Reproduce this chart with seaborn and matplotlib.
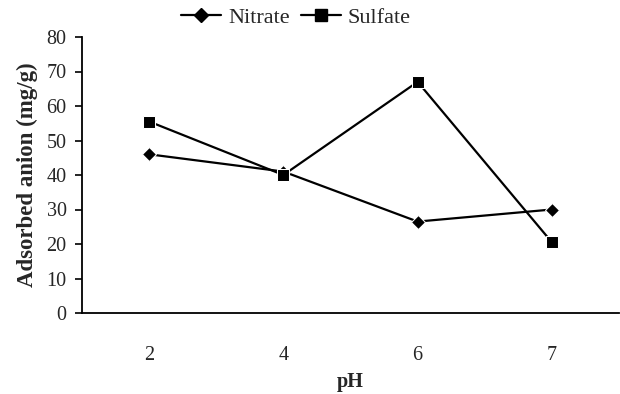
import matplotlib
matplotlib.use("Agg")
import matplotlib.pyplot as plt
import seaborn as sns
import pandas as pd
from matplotlib.lines import Line2D

ph_labels = ["2", "4", "6", "7"]
nitrate = [46, 41, 26.5, 30]
sulfate = [55.5, 40, 67, 20.5]
series_names = ["Nitrate", "Sulfate"]
y_ticks = [0, 10, 20, 30, 40, 50, 60, 70, 80]

sns.set_style("white")
plt.rcParams['font.family'] = ['Liberation Serif', 'DejaVu Serif']

df = pd.DataFrame({
    "pH": ph_labels * 2,
    "pos": list(range(len(ph_labels))) * 2,
    "value": nitrate + sulfate,
    "anion": [series_names[0]] * len(nitrate) + [series_names[1]] * len(sulfate),
})

fig = plt.figure(figsize=(6.2, 3.94), dpi=100)
ax = fig.add_axes([82/620, 1 - 313/394, (619-82)/620, (313-37)/394])

sns.lineplot(data=df, x="pos", y="value", hue="anion", style="anion",
             markers={"Nitrate": "D", "Sulfate": "s"}, dashes=False,
             palette={"Nitrate": "black", "Sulfate": "black"},
             markersize=7, linewidth=1.6, ax=ax, legend=False)
for line in ax.get_lines():
    if line.get_marker() == "D":
        line.set_markersize(7.5)
    else:
        line.set_markersize(9)

ax.set_xlim(-0.5, len(ph_labels) - 0.5)
ax.set_ylim(0, 80)
ax.set_yticks(y_ticks)
ax.set_yticklabels([str(v) for v in y_ticks], fontsize=14.5)
ax.set_xticks(range(len(ph_labels)))
ax.set_xticklabels(ph_labels, fontsize=14.5)
ax.set_xticks([i - 0.5 for i in range(len(ph_labels) + 1)], minor=True)
ax.tick_params(axis="x", which="major", length=0, pad=24)
ax.tick_params(axis="x", which="minor", length=5, width=1.2, direction="out", color="black")
ax.tick_params(axis="y", which="major", length=5, width=1.2, direction="out", color="black", pad=6, left=True)

for s in ["top", "right"]:
    ax.spines[s].set_visible(False)
for s in ["left", "bottom"]:
    ax.spines[s].set_color("black")
    ax.spines[s].set_linewidth(1.3)

ax.set_xlabel("pH", fontsize=14.5, fontweight="bold", labelpad=5)
ax.set_ylabel("Adsorbed anion (mg/g)", fontsize=16.5, fontweight="bold", labelpad=6)

handles = [Line2D([], [], color="black", marker="D", markersize=7.5, linewidth=1.6),
           Line2D([], [], color="black", marker="s", markersize=9, linewidth=1.6)]
fig.legend(handles, series_names, loc="center", bbox_to_anchor=(296/620, 1 - 18/394),
           ncol=2, frameon=False, fontsize=16, handlelength=1.8, handletextpad=0.3,
           columnspacing=0.5)

fig.savefig("out.png", dpi=100)
